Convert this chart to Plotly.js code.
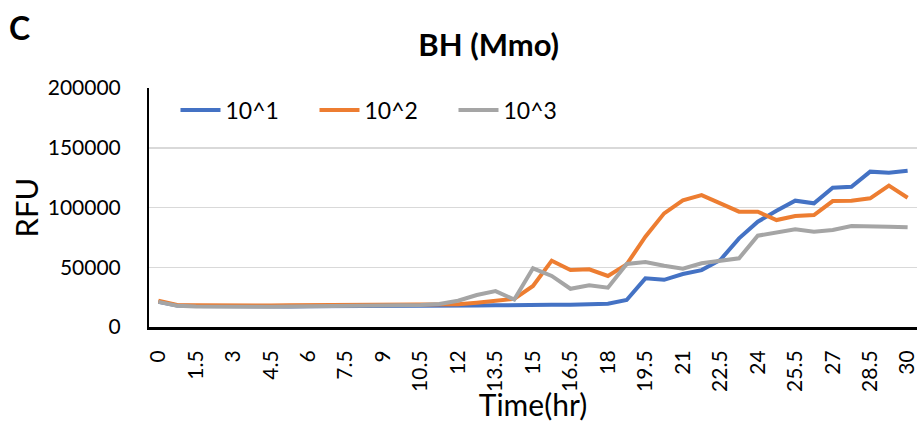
<!DOCTYPE html>
<html>
<head>
<meta charset="utf-8">
<script src="https://cdn.plot.ly/plotly-3.0.1.min.js"></script>
<style>html,body{margin:0;padding:0;background:#fff;}#chart{width:917px;height:422px;}</style>
</head>
<body>
<div id="chart"></div>
<script>
const timeHr = [0,0.75,1.5,2.25,3,3.75,4.5,5.25,6,6.75,7.5,8.25,9,9.75,10.5,11.25,12,12.75,13.5,14.25,15,15.75,16.5,17.25,18,18.75,19.5,20.25,21,21.75,22.5,23.25,24,24.75,25.5,26.25,27,27.75,28.5,29.25,30];
const tickLabels = ["0","1.5","3","4.5","6","7.5","9","10.5","12","13.5","15","16.5","18","19.5","21","22.5","24","25.5","27","28.5","30"];
const tickVals = [0,1.5,3,4.5,6,7.5,9,10.5,12,13.5,15,16.5,18,19.5,21,22.5,24,25.5,27,28.5,30];
const yTickVals = [0,50000,100000,150000,200000];
const yTickLabels = ["0","50000","100000","150000","200000"];
const seriesNames = ["10^1","10^2","10^3"];
const rfu_1 = [21000,18000,17500,17300,17200,17200,17200,17200,17300,17300,17400,17500,17500,17600,17700,17800,17800,17900,18200,18600,18700,18600,18700,18800,19500,22600,40700,39500,44300,47600,56100,74200,88100,97300,105700,103500,116600,117400,130000,129100,130800];
const rfu_2 = [22000,18500,18200,18000,18000,18000,18000,18100,18200,18200,18200,18200,18200,18300,18300,18500,19000,20300,22300,23500,34300,55500,47700,48300,42700,52400,75600,95100,106000,110300,103500,96500,96500,89500,92900,93700,105400,105700,107700,118300,108200];
const rfu_3 = [21000,17800,17200,17000,17000,17000,17000,17200,17300,17500,17700,17800,17900,18100,18500,19200,22000,26800,30000,23000,49100,42700,32000,34900,32900,52700,54400,51300,48800,53300,55200,57500,76400,78900,81700,79800,81200,84500,84500,83900,83400];
const colors = ["#4472C4","#ED7D31","#A5A5A5"];

const FONT = "Lato, 'Open Sans', sans-serif";
const traces = [rfu_1, rfu_2, rfu_3].map((ys, k) => ({
  x: timeHr, y: ys, name: seriesNames[k], type: "scatter", mode: "lines",
  line: {color: colors[k], width: 4}
}));

const layout = {
  width: 917, height: 422,
  margin: {l: 149, r: 0, t: 88, b: 95},
  paper_bgcolor: "#fff", plot_bgcolor: "#fff",
  font: {family: FONT, color: "#000"},
  title: {text: "<b>BH (Mmo)</b>", x: 0.533, xanchor: "center", y: 0.893, yanchor: "middle", font: {size: 31, family: FONT, color: "#000"}},
  showlegend: true,
  legend: {orientation: "h", x: 0.0345, xanchor: "left", y: 0.908, yanchor: "middle",
    font: {size: 23, family: FONT, color: "#000"}, bgcolor: "rgba(0,0,0,0)",
    entrywidth: 84, entrywidthmode: "pixels", itemwidth: 40, tracegroupgap: 0},
  xaxis: {range: [-0.375, 30.375], tickmode: "array", tickvals: tickVals, ticktext: tickLabels,
    tickangle: -90, tickfont: {size: 21, family: FONT}, showgrid: false, zeroline: false,
    showline: true, linecolor: "#000", linewidth: 3, ticks: "", ticklen: 0, ticklabelstandoff: 12,
    ticklabeloverflow: "allow",
    title: {text: "Time(hr)", font: {size: 30, family: FONT}, standoff: 0}},
  yaxis: {range: [0, 200000], tickmode: "array", tickvals: yTickVals, ticktext: yTickLabels,
    tickfont: {size: 21, family: FONT}, showgrid: true, gridcolor: "#d9d9d9", gridwidth: 1.5,
    zeroline: false, showline: true, linecolor: "#000", linewidth: 2, ticks: "", ticklabelstandoff: 22,
    title: {text: "RFU", font: {size: 31, family: FONT}, standoff: 0}},
  annotations: [{text: "<b>C</b>", xref: "paper", yref: "paper", x: -0.168, y: 1.255, xanchor: "center", yanchor: "middle",
    showarrow: false, font: {size: 32, family: FONT, color: "#000"}}]
};
Plotly.newPlot("chart", traces, layout, {displayModeBar: false, staticPlot: true});
</script>
</body>
</html>
